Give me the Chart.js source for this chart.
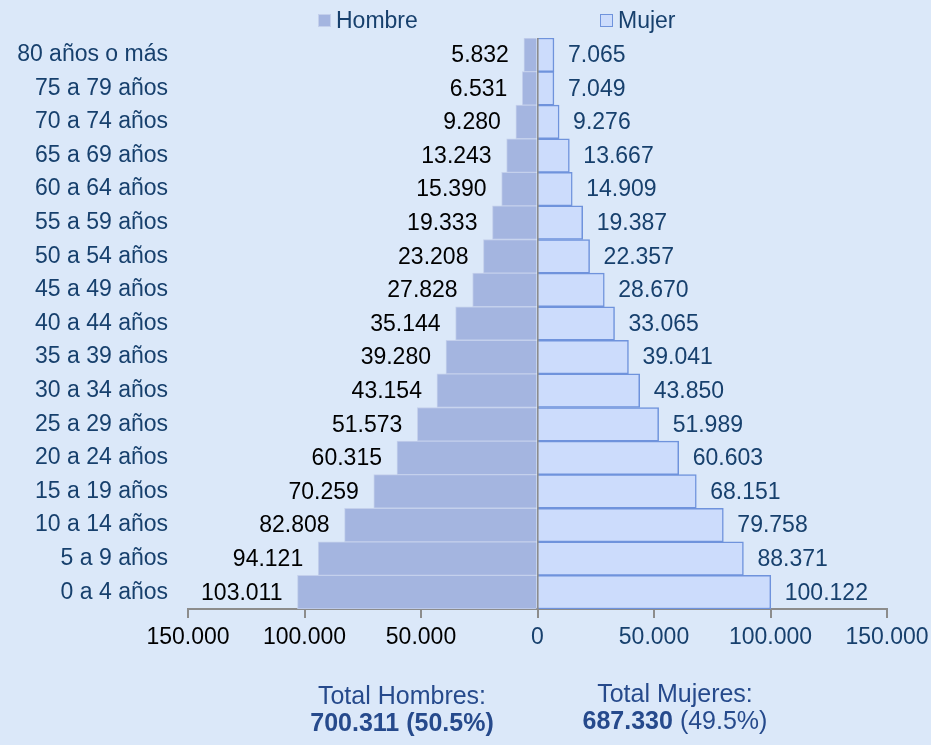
<!DOCTYPE html>
<html><head><meta charset="utf-8">
<script src="https://cdn.jsdelivr.net/npm/chart.js@4/dist/chart.umd.min.js"></script>
<style>
html,body{margin:0;padding:0;background:#dbe8f9;}
#wrap{position:relative;width:931px;height:745px;background:#dbe8f9;font-family:"Liberation Sans",Arial,sans-serif;}
canvas{position:absolute;left:0;top:0;}
.leg{position:absolute;top:7px;font-size:23px;color:#17406d;line-height:26px;}
.box{display:inline-block;width:11px;height:11px;margin-right:5px;vertical-align:1px;}
.tot{position:absolute;text-align:center;color:#264a8c;font-size:25px;line-height:27px;width:300px;}
</style></head>
<body><div id="wrap">
<canvas id="c" width="931" height="745"></canvas>
<div class="leg" style="left:318px"><span class="box" style="background:#a4b5e0;border:1px solid #c4d0ec;"></span>Hombre</div>
<div class="leg" style="left:600px"><span class="box" style="background:#ccdcfc;border:1px solid #6f93dc;"></span>Mujer</div>
<div class="tot" style="left:252px;top:682px">Total Hombres:<br><b>700.311 (50.5%)</b></div>
<div class="tot" style="left:525px;top:680px">Total Mujeres:<br><b>687.330</b> (49.5%)</div>
</div>
<script>
const categories = ["80 años o más","75 a 79 años","70 a 74 años","65 a 69 años","60 a 64 años","55 a 59 años","50 a 54 años","45 a 49 años","40 a 44 años","35 a 39 años","30 a 34 años","25 a 29 años","20 a 24 años","15 a 19 años","10 a 14 años","5 a 9 años","0 a 4 años"];
const hombre = [5832,6531,9280,13243,15390,19333,23208,27828,35144,39280,43154,51573,60315,70259,82808,94121,103011];
const mujer = [7065,7049,9276,13667,14909,19387,22357,28670,33065,39041,43850,51989,60603,68151,79758,88371,100122];
const xTicks = [-150000,-100000,-50000,0,50000,100000,150000];

const fmt = n => String(Math.abs(n)).replace(/\B(?=(\d{3})+(?!\d))/g,'.');
const FONT = "'Liberation Sans', Arial, sans-serif";
const BLUE = '#17406d';

const labelPlugin = {
  id:'labels',
  afterDatasetsDraw(chart){
    const ctx = chart.ctx;
    ctx.save();
    ctx.font = '23px ' + FONT;
    ctx.textBaseline = 'middle';
    chart.data.datasets.forEach((ds,di)=>{
      const meta = chart.getDatasetMeta(di);
      meta.data.forEach((el,i)=>{
        const v = ds.data[i];
        if(v<0){ ctx.textAlign='right'; ctx.fillStyle='#000'; ctx.fillText(fmt(v), el.x-15, el.y+1); }
        else { ctx.textAlign='left'; ctx.fillStyle=BLUE; ctx.fillText(fmt(v), el.x+14, el.y+1); }
      });
    });
    ctx.restore();
  }
};

new Chart(document.getElementById('c'),{
  type:'bar',
  data:{
    labels:categories,
    datasets:[
      {label:'Hombre',data:hombre.map(v=>-v),backgroundColor:'#a4b5e0',borderColor:'#c4d0ec',borderWidth:1,barPercentage:1,categoryPercentage:1},
      {label:'Mujer',data:mujer,backgroundColor:'#ccdcfc',borderColor:'#6f93dc',borderWidth:1.5,barPercentage:1,categoryPercentage:1}
    ]
  },
  options:{
    indexAxis:'y',
    responsive:false,
    animation:false,
    layout:{padding:{top:38,right:44,left:0,bottom:0}},
    plugins:{legend:{display:false},tooltip:{enabled:false}},
    scales:{
      x:{
        stacked:true,min:-150000,max:150000,
        afterBuildTicks(s){ s.ticks = xTicks.map(v=>({value:v})); },
        afterFit(s){ s.height = 136; s.paddingRight = 0; s.paddingLeft = 0; },
        border:{display:true,color:'#8c8c8c',width:2},
        grid:{
          color:c=> (c.tick && c.tick.value===0) ? '#8c8c8c' : 'transparent',
          lineWidth:2,
          drawTicks:true,tickLength:9,tickColor:'#8c8c8c',tickWidth:2
        },
        ticks:{
          padding:6,
          font:{size:23,family:FONT},
          color:c=> c.tick.value<0 ? '#000' : BLUE,
          callback:v=>fmt(v),
          maxRotation:0,autoSkip:false
        }
      },
      y:{
        stacked:true,
        afterFit(s){ s.width = 188; },
        border:{display:false},
        grid:{display:false,drawTicks:false},
        ticks:{padding:20,font:{size:23,family:FONT},color:BLUE,autoSkip:false}
      }
    }
  },
  plugins:[labelPlugin]
});
</script>
</body></html>
